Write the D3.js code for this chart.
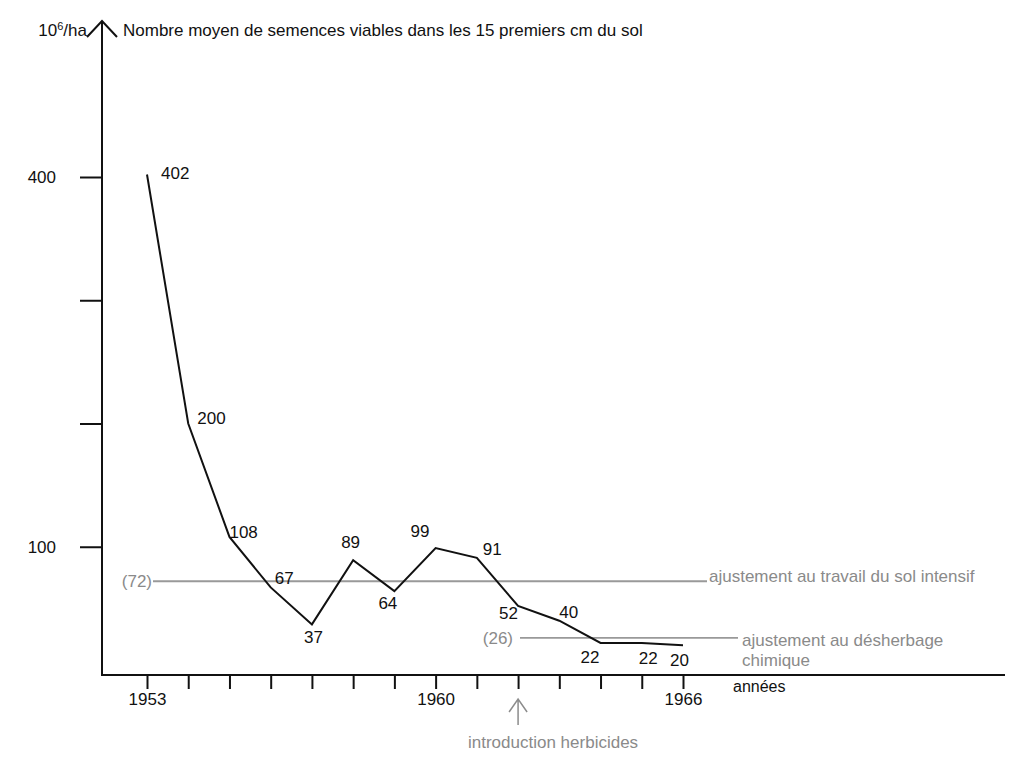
<!DOCTYPE html>
<html>
<head>
<meta charset="utf-8">
<script src="https://cdn.jsdelivr.net/npm/d3@7"></script>
<style>
  body { margin: 0; background: #fff; }
  svg text { font-family: "Liberation Sans", Arial, sans-serif; }
</style>
</head>
<body>
<div id="chart"></div>
<script>
// seed counts per year (10^6/ha)
var years = [1953, 1954, 1955, 1956, 1957, 1958, 1959, 1960, 1961, 1962, 1963, 1964, 1965, 1966];
var seeds = [402, 200, 108, 67, 37, 89, 64, 99, 91, 52, 40, 22, 22, 20];
var yTicks = [100, 200, 300, 400];
var yTickLabels = [100, 400];
var xTickLabels = [1953, 1960, 1966];
var fitValues = [72, 26];
var fitLabels = [["ajustement au travail du sol intensif"], ["ajustement au désherbage", "chimique"]];
var herbicideYear = 1962;

// label offsets (dx, dy from the point)
var labelPos = [
    [14, 4], [9, 0], [0, 1], [4, -3], [-8, 19], [-12, -12], [-16, 18], [-25, -11],
    [6, -3], [-19, 13], [0, -3], [-20, 20], [-3, 21], [-13, 21]
];

var fs = 17;
var svgWidth = 1010;
var svgHeight = 760;

var svg = d3.select("#chart")
    .append("svg")
    .attr("width", svgWidth)
    .attr("height", svgHeight);

var xScale = d3.scaleLinear()
    .domain([1953, 1966])
    .range([147, 683]);

var yScale = d3.scaleLinear()
    .domain([0, 400])
    .range([670, 177]);

var axisY = 675;
var axisX = 102;

// x axis ticks
var xAxis = d3.axisBottom(xScale)
    .tickValues(years)
    .tickSize(14)
    .tickPadding(4)
    .tickFormat(d => xTickLabels.indexOf(d) >= 0 ? d : "");

var gx = svg.append("g")
    .attr("transform", `translate(0, ${axisY})`)
    .call(xAxis);
gx.select(".domain").remove();
gx.selectAll("line").attr("stroke", "#111").attr("stroke-width", 2);
gx.selectAll("text").attr("font-size", fs).attr("fill", "#111");

// y axis ticks
var yAxis = d3.axisLeft(yScale)
    .tickValues(yTicks)
    .tickSize(22)
    .tickPadding(24)
    .tickFormat(d => yTickLabels.indexOf(d) >= 0 ? d : "");

var gy = svg.append("g")
    .attr("transform", `translate(${axisX}, 0)`)
    .call(yAxis);
gy.select(".domain").remove();
gy.selectAll("line").attr("stroke", "#111").attr("stroke-width", 2);
gy.selectAll("text").attr("font-size", fs).attr("fill", "#111");

// axis lines
svg.append("line")
    .attr("x1", axisX).attr("x2", axisX)
    .attr("y1", 21).attr("y2", axisY + 1)
    .attr("stroke", "#111").attr("stroke-width", 2);

svg.append("line")
    .attr("x1", axisX).attr("x2", 1005)
    .attr("y1", axisY).attr("y2", axisY)
    .attr("stroke", "#111").attr("stroke-width", 2);

// arrow head on top of y axis
svg.append("path")
    .attr("d", `M${axisX - 15},37 L${axisX},21 L${axisX + 15},37`)
    .attr("fill", "none")
    .attr("stroke", "#111")
    .attr("stroke-width", 2);

svg.append("text")
    .attr("x", 87)
    .attr("y", 36)
    .attr("text-anchor", "end")
    .attr("font-size", fs)
    .attr("fill", "#111")
    .html('10<tspan dy="-6" font-size="11">6</tspan><tspan dy="6">/ha</tspan>');

svg.append("text")
    .attr("x", 123)
    .attr("y", 36)
    .attr("font-size", fs)
    .attr("fill", "#111")
    .text("Nombre moyen de semences viables dans les 15 premiers cm du sol");

// fitted levels (gray)
var fitLines = [
    { x1: 153, x2: 707, lx: 709, numX: 152 },
    { x1: 520, x2: 738, lx: 742, numX: 513 }
];

fitValues.forEach(function(v, i) {
    var y = yScale(v);
    var f = fitLines[i];
    svg.append("line")
        .attr("x1", f.x1).attr("x2", f.x2)
        .attr("y1", y).attr("y2", y)
        .attr("stroke", "#999")
        .attr("stroke-width", 1.8);
    svg.append("text")
        .attr("x", f.numX)
        .attr("y", y + 6)
        .attr("text-anchor", "end")
        .attr("font-size", fs)
        .attr("fill", "#8a8a8a")
        .text(`(${v})`);
    fitLabels[i].forEach(function(t, j) {
        svg.append("text")
            .attr("x", f.lx)
            .attr("y", (i === 0 ? y + 1 : y + 8) + j * 20)
            .attr("font-size", fs)
            .attr("fill", "#8a8a8a")
            .text(t);
    });
});

// main line
var line = d3.line()
    .x((d, i) => xScale(years[i]))
    .y(d => yScale(d));

svg.append("path")
    .datum(seeds)
    .attr("d", line)
    .attr("fill", "none")
    .attr("stroke", "#111")
    .attr("stroke-width", 2)
    .attr("stroke-linejoin", "miter");

svg.selectAll(".val")
    .data(seeds)
    .enter()
    .append("text")
    .attr("class", "val")
    .attr("x", (d, i) => xScale(years[i]) + labelPos[i][0])
    .attr("y", (d, i) => yScale(d) + labelPos[i][1])
    .attr("font-size", fs)
    .attr("fill", "#111")
    .text(d => d);

// x axis title
svg.append("text")
    .attr("x", 733)
    .attr("y", 692)
    .attr("font-size", 16)
    .attr("fill", "#111")
    .text("années");

// herbicide arrow
var hx = xScale(herbicideYear);
svg.append("path")
    .attr("d", `M${hx},725 L${hx},699 M${hx - 9},712 L${hx},699 L${hx + 9},712`)
    .attr("fill", "none")
    .attr("stroke", "#8c8c8c")
    .attr("stroke-width", 1.5);

svg.append("text")
    .attr("x", 468)
    .attr("y", 748)
    .attr("font-size", fs)
    .attr("fill", "#8a8a8a")
    .text("introduction herbicides");
</script>
</body>
</html>
